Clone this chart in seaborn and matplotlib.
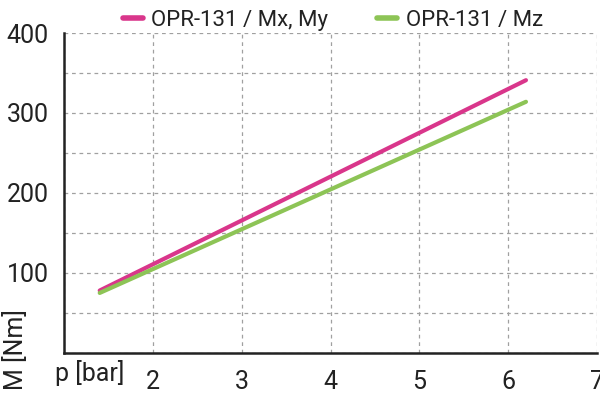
import pandas as pd
import matplotlib
matplotlib.use("Agg")
import matplotlib.pyplot as plt
import seaborn as sns

# data
p_bar = [1.4, 6.2]
m_xy = [78, 341]
m_z = [75, 314]
series = ["OPR-131 / Mx, My", "OPR-131 / Mz"]
colors = ["#d9368b", "#8dc456"]

df = pd.DataFrame({
    "p": p_bar * 2,
    "M": m_xy + m_z,
    "serie": [series[0]] * 2 + [series[1]] * 2,
})

sns.set_style("white")
plt.rcParams["font.family"] = ["Roboto", "DejaVu Sans"]

fig = plt.figure(figsize=(6, 3.93), dpi=100)
ax = fig.add_axes([0.107, 0.102, 0.888, 0.814])

sns.lineplot(data=df, x="p", y="M", hue="serie", palette=colors,
             linewidth=3, ax=ax, legend=False)

ax.set_xlim(1, 7)
ax.set_ylim(0, 400)
ax.set_xticks(range(1, 8))
ax.set_xticklabels(["", "2", "3", "4", "5", "6", "7"])
ax.set_yticks(range(0, 401, 100))
ax.set_yticklabels(["", "100", "200", "300", "400"])
ax.set_yticks(range(50, 400, 100), minor=True)

ax.grid(True, which="both", color="#a0a0a0", linestyle=(0, (3, 3)), linewidth=0.9)
ax.set_axisbelow(True)
for s in ["top", "right"]:
    ax.spines[s].set_visible(False)
for s in ["left", "bottom"]:
    ax.spines[s].set_color("#222222")
    ax.spines[s].set_linewidth(1.8)
ax.tick_params(which="major", direction="out", length=6, width=1.8, color="#222222",
               labelsize=18, labelcolor="#222222", pad=5)
ax.tick_params(axis="x", which="major", pad=6)
ax.tick_params(which="minor", length=0)
ax.set_xlabel("")
ax.set_ylabel("")

fig.text(0.092, 0.03, "p [bar]", fontsize=18, color="#222222",
         ha="left", va="baseline")
fig.text(0.005, 0.008, "M [Nm]", rotation=90, fontsize=18, color="#222222",
         ha="left", va="bottom")

handles = [plt.Line2D([], [], color=c, linewidth=4) for c in colors]
fig.legend(handles, series, loc="upper center", bbox_to_anchor=(0.555, 1.025),
           ncol=2, frameon=False, fontsize=16, handlelength=0.9,
           handletextpad=0.4, columnspacing=2.2, labelcolor="#222222")

fig.savefig("out.png", dpi=100)
